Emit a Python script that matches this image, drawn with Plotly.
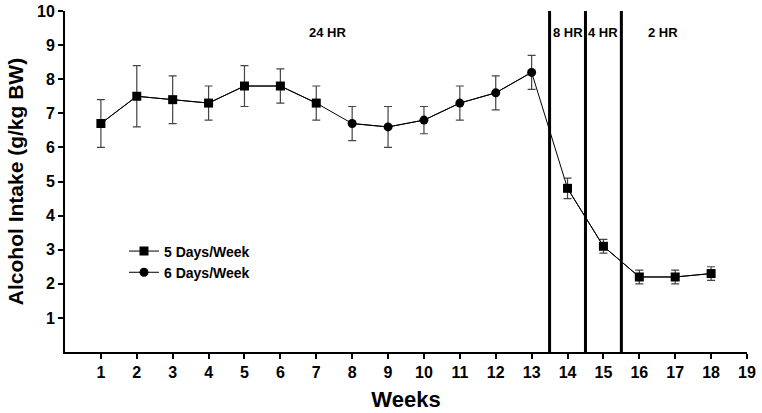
import plotly.graph_objects as go

weeks = list(range(1, 19))
intake = [6.7, 7.5, 7.4, 7.3, 7.8, 7.8, 7.3, 6.7, 6.6, 6.8, 7.3, 7.6, 8.2, 4.8, 3.1, 2.2, 2.2, 2.3]
sem = [0.7, 0.9, 0.7, 0.5, 0.6, 0.5, 0.5, 0.5, 0.6, 0.4, 0.5, 0.5, 0.5, 0.3, 0.2, 0.2, 0.2, 0.2]
schedule = ["5", "5", "5", "5", "5", "5", "5", "6", "6", "6", "6", "6", "6", "5", "5", "5", "5", "5"]
boundaries = [13.5, 14.5, 15.5]
period_labels = ["24 HR", "8 HR", "4 HR", "2 HR"]
period_x = [7.3, 14.0, 15.0, 16.65]
period_y = 9.37
x_ticks = list(range(1, 20))
y_ticks = list(range(1, 11))

FONT = "Liberation Sans, Arial, sans-serif"

def masked(vals, key):
    return [v if s == key else None for v, s in zip(vals, schedule)]

fig = go.Figure()
# continuous connecting line
fig.add_trace(go.Scatter(x=weeks, y=intake, mode="lines", line=dict(color="black", width=1),
                         showlegend=False, hoverinfo="skip"))

for key, sym, name in [("5", "square", "5 Days/Week"), ("6", "circle", "6 Days/Week")]:
    fig.add_trace(go.Scatter(
        x=weeks, y=masked(intake, key), mode="lines+markers", name=name,
        connectgaps=False,
        line=dict(color="black", width=1),
        marker=dict(symbol=sym, size=9, color="black"),
        error_y=dict(type="data", array=masked(sem, key), color="#444444", thickness=1.2, width=4),
    ))

for b in boundaries:
    fig.add_shape(type="line", x0=b, x1=b, y0=0, y1=10, xref="x", yref="y",
                  line=dict(color="black", width=3))

for lbl, px in zip(period_labels, period_x):
    fig.add_annotation(x=px, y=period_y, text=lbl, showarrow=False, xref="x", yref="y",
                       font=dict(family=FONT, size=13, color="black", weight="bold"))

fig.update_layout(
    width=762, height=413,
    margin=dict(l=65, r=15, t=11, b=61, autoexpand=False),
    plot_bgcolor="white", paper_bgcolor="white",
    font=dict(family=FONT, color="black"),
    legend=dict(x=0.0865, y=0.264, xanchor="left", yanchor="middle",
                bgcolor="rgba(0,0,0,0)", tracegroupgap=0,
                font=dict(family=FONT, size=14, color="black", weight="bold"),
                itemwidth=30),
    xaxis=dict(range=[0, 19], tickvals=x_ticks, ticktext=[str(t) for t in x_ticks],
               automargin=False,
               showgrid=False, zeroline=False, showline=True, linecolor="black", linewidth=2,
               ticks="outside", ticklen=5, tickwidth=2, tickcolor="black",
               tickfont=dict(family=FONT, size=16, color="black", weight="bold"),
               title=dict(text="Weeks", standoff=11,
                          font=dict(family=FONT, size=22, color="black", weight="bold"))),
    yaxis=dict(range=[0, 10], tickvals=y_ticks, ticktext=[str(t) for t in y_ticks],
               automargin=False,
               showgrid=False, zeroline=False, showline=True, linecolor="black", linewidth=2,
               ticks="outside", ticklen=5, tickwidth=2, tickcolor="black",
               tickfont=dict(family=FONT, size=16, color="black", weight="bold"),
               title=dict(text="Alcohol Intake (g/kg BW)", standoff=8,
                          font=dict(family=FONT, size=21, color="black", weight="bold"))),
)

fig.write_html("out.html", config={"displayModeBar": False},
               post_script="document.body.style.margin='0';document.body.style.overflow='hidden';")
